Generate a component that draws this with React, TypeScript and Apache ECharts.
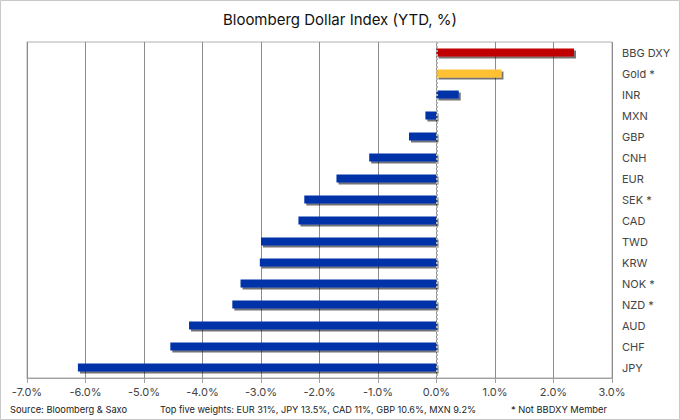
import React, { useEffect, useRef } from "react";
import * as echarts from "echarts";

const categories = ["BBG DXY", "Gold *", "INR", "MXN", "GBP", "CNH", "EUR", "SEK *", "CAD", "TWD", "KRW", "NOK *", "NZD *", "AUD", "CHF", "JPY"];
const values = [2.35, 1.11, 0.38, -0.19, -0.47, -1.15, -1.71, -2.26, -2.36, -3.0, -3.02, -3.35, -3.49, -4.23, -4.55, -6.13];
const barColors = ["#C00000", "#FFC133", "#0431A8", "#0431A8", "#0431A8", "#0431A8", "#0431A8", "#0431A8", "#0431A8", "#0431A8", "#0431A8", "#0431A8", "#0431A8", "#0431A8", "#0431A8", "#0431A8"];
const titleText = "Bloomberg Dollar Index (YTD, %)";
const footerSource = "Source: Bloomberg & Saxo";
const footerWeights = "Top five weights: EUR 31%, JPY 13.5%, CAD 11%, GBP 10.6%, MXN 9.2%";
const footerNote = "* Not BBDXY Member";

export default function App() {
  const ref = useRef<HTMLDivElement>(null);
  useEffect(() => {
    if (!ref.current) return;
    const chart = echarts.init(ref.current, null, { renderer: "svg" });
    const font = "Inter, Roboto, 'Noto Sans', sans-serif";
    chart.setOption({
      animation: false,
      backgroundColor: "#ffffff",
      title: {
        text: titleText,
        left: "center",
        top: 7,
        textStyle: { fontFamily: font, fontSize: 15, fontWeight: "normal", color: "#111" },
      },
      grid: {
        left: 27,
        right: 68,
        top: 42,
        bottom: 42,
        show: true,
        borderColor: "#b0b0b0",
        borderWidth: 1,
        backgroundColor: "transparent",
      },
      xAxis: {
        type: "value",
        min: -7,
        max: 3,
        interval: 1,
        axisLine: { show: true, lineStyle: { color: "#a0a0a0", width: 1 } },
        axisTick: { show: true, length: 5, lineStyle: { color: "#a0a0a0" } },
        splitLine: { show: true, lineStyle: { color: "#8c8c8c", width: 1 } },
        axisLabel: {
          formatter: (v: number) => v.toFixed(1) + "%",
          fontFamily: font,
          fontSize: 11,
          color: "#444",
          margin: 8,
        },
      },
      yAxis: {
        type: "category",
        data: categories,
        inverse: true,
        position: "right",
        axisLine: { show: false },
        axisTick: { show: false },
        splitLine: { show: false },
        axisLabel: {
          fontFamily: font,
          fontSize: 11,
          color: "#444",
          margin: 10,
          align: "left",
        },
      },
      series: [
        {
          type: "bar",
          data: values.map((v, i) => ({ value: v, itemStyle: { color: barColors[i] } })),
          barWidth: 8,
          itemStyle: {
            shadowColor: "rgba(0,0,0,0.55)",
            shadowOffsetX: 2,
            shadowOffsetY: 2,
            shadowBlur: 1,
          },
          markLine: {
            silent: true,
            symbol: "none",
            label: { show: false },
            lineStyle: { color: "#b5b5b5", type: "dotted", width: 2 },
            data: [{ xAxis: 0 }],
          },
        },
      ],
      graphic: [
        {
          type: "rect",
          shape: { x: 0.5, y: 0.5, width: 679, height: 419 },
          style: { fill: "none", stroke: "#c8c8c8", lineWidth: 1 },
          silent: true,
        },
        {
          type: "text",
          left: 10,
          top: 405,
          style: { text: footerSource, fontFamily: font, fontSize: 9.3, fill: "#222" },
        },
        {
          type: "text",
          left: 160,
          top: 405,
          style: { text: footerWeights, fontFamily: font, fontSize: 9.2, fill: "#222" },
        },
        {
          type: "text",
          left: 511,
          top: 405,
          style: { text: footerNote, fontFamily: font, fontSize: 9.3, fill: "#222" },
        },
      ],
    });
    return () => chart.dispose();
  }, []);
  return (
    <div
      ref={ref}
      style={{ position: "fixed", left: 0, top: 0, width: 680, height: 420 }}
    />
  );
}
